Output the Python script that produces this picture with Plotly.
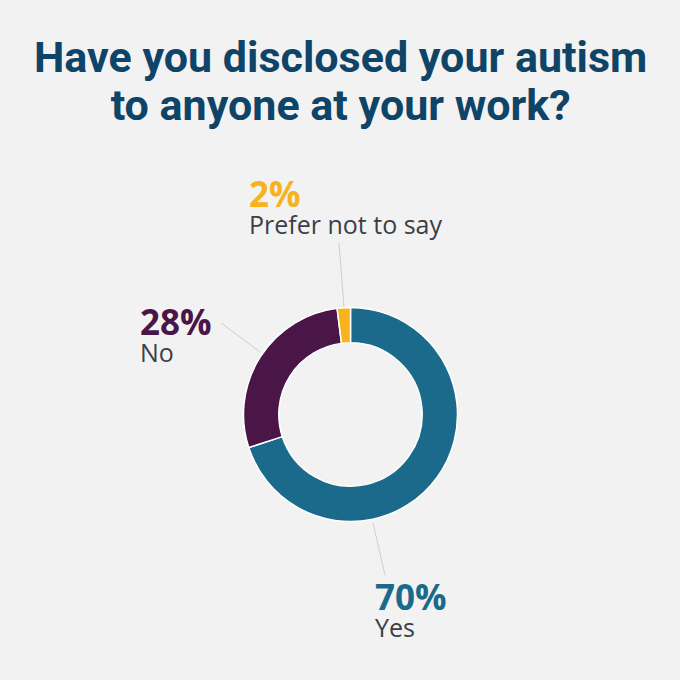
import plotly.graph_objects as go

# Survey answers (as printed on the chart)
answers = ["Yes", "No", "Prefer not to say"]
shares = [70, 28, 2]
colours = ["#1b6a8b", "#4a1547", "#f7b21d"]

W = H = 680
BG = "#f2f2f2"


def px(x, y):
    # pixel -> paper coords
    return x / W, 1 - y / H


fig = go.Figure()

cx, cy, r = 350.5, 414.5, 107
x0, y1 = px(cx - r, cy - r)
x1, y0 = px(cx + r, cy + r)

fig.add_trace(go.Pie(
    labels=answers,
    values=shares,
    hole=0.67,
    sort=False,
    direction="clockwise",
    rotation=0,
    marker=dict(colors=colours, line=dict(color="#ffffff", width=1.5)),
    textinfo="none",
    hoverinfo="label+percent",
    showlegend=False,
    domain=dict(x=[x0, x1], y=[y0, y1]),
))

# label blocks: (left x, top y) in pixels
label_pos = [(373, 571), (138, 296), (247, 168)]
# leader lines: pixel endpoints
leaders = [((373, 523), (385, 575)),
           ((260, 352), (221, 323)),
           ((344, 307), (339, 243))]

for name, val, col, (lx, ly), (p, q) in zip(answers, shares, colours,
                                            label_pos, leaders):
    ax, ay = px(lx, ly)
    fig.add_annotation(
        x=ax, y=ay, xref="paper", yref="paper",
        xanchor="left", yanchor="top", showarrow=False, align="left",
        text=(f"<span style='font-size:35px;color:{col}'><b>{val}%</b></span>"
              f"<br><span style='font-size:25px'>{name}</span>"),
        font=dict(family="Open Sans", size=21, color="#3b3f46"),
    )
    sx, sy = px(*p)
    ex, ey = px(*q)
    fig.add_shape(type="line", xref="paper", yref="paper",
                  x0=sx, y0=sy, x1=ex, y1=ey,
                  line=dict(color="#cfcfcf", width=1))

fig.add_annotation(
    x=0.5, y=px(0, 30)[1], xref="paper", yref="paper",
    xanchor="center", yanchor="top", showarrow=False,
    text=("<span style='font-size:43px'><b>Have you disclosed your autism"
          "</b></span><br><span style='font-size:43px'><b>to anyone at your "
          "work?</b></span>"),
    font=dict(family="Roboto", size=37, color="#0e4467"),
)

fig.update_layout(
    width=W, height=H,
    margin=dict(l=0, r=0, t=0, b=0),
    paper_bgcolor=BG,
    plot_bgcolor=BG,
)

fig.write_html(
    "out.html",
    config={"displayModeBar": False},
    post_script=("document.body.style.margin='0';"
                 f"document.body.style.background='{BG}';"),
)
